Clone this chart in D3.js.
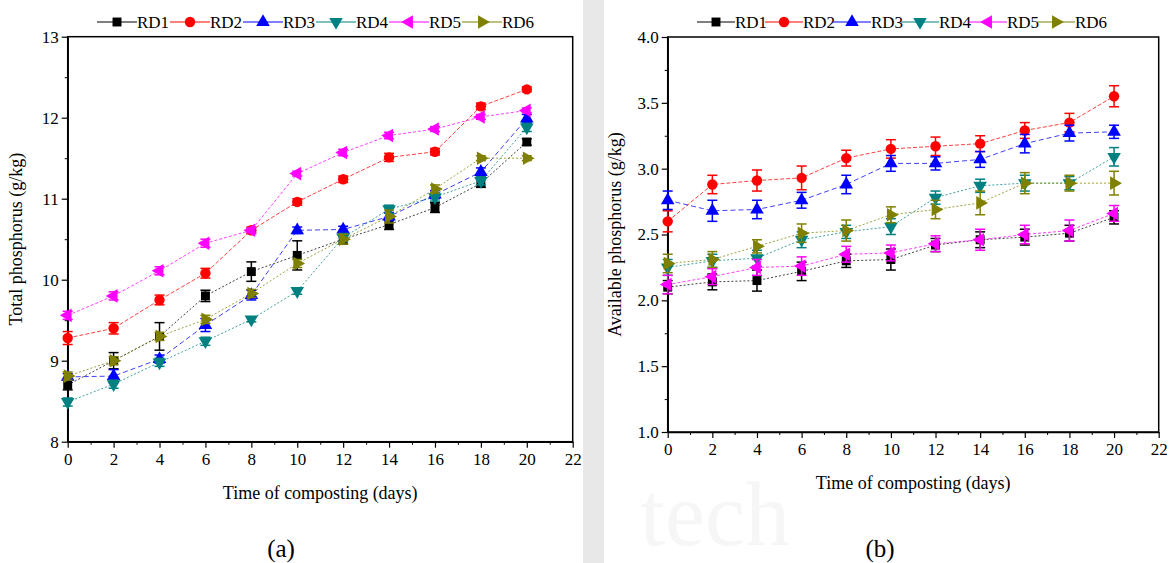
<!DOCTYPE html>
<meta charset="utf-8">
<style>
  body { margin: 0; background: #fff; }
  text { font-family: "Liberation Serif", "Times New Roman", serif; }
</style>
<body>
<script src="https://d3js.org/d3.v7.min.js"></script>
<script>
// composting days
const days = [0, 2, 4, 6, 8, 10, 12, 14, 16, 18, 20];
const seriesNames = ["RD1", "RD2", "RD3", "RD4", "RD5", "RD6"];
const xTicks = [0, 2, 4, 6, 8, 10, 12, 14, 16, 18, 20, 22];
const tpTicks = [8, 9, 10, 11, 12, 13];
const apTicks = [1.0, 1.5, 2.0, 2.5, 3.0, 3.5, 4.0];

// (a) total phosphorus, g/kg
const tpRD1 = [8.70, 9.00, 9.30, 9.80, 10.10, 10.30, 10.50, 10.68, 10.89, 11.19, 11.70];
const tpRD2 = [9.28, 9.40, 9.75, 10.08, 10.61, 10.96, 11.24, 11.51, 11.58, 12.14, 12.35];
const tpRD3 = [8.80, 8.81, 9.02, 9.44, 9.81, 10.61, 10.62, 10.78, 11.05, 11.33, 11.99];
const tpRD4 = [8.49, 8.71, 8.98, 9.24, 9.51, 9.86, 10.52, 10.87, 11.02, 11.22, 11.88];
const tpRD5 = [9.56, 9.80, 10.11, 10.45, 10.61, 11.31, 11.57, 11.78, 11.86, 12.01, 12.09];
const tpRD6 = [8.81, 9.00, 9.30, 9.51, 9.83, 10.20, 10.50, 10.78, 11.12, 11.50, 11.50];
const tpErrRD1 = [0.06, 0.10, 0.17, 0.07, 0.12, 0.18, 0.06, 0.06, 0.06, 0.05, 0.04];
const tpErrRD2 = [0.08, 0.07, 0.06, 0.06, 0.04, 0.04, 0.04, 0.05, 0.04, 0.04, 0.03];
const tpErrRD3 = [0.04, 0.08, 0.05, 0.08, 0.06, 0.04, 0.04, 0.05, 0.05, 0.05, 0.05];
const tpErrRD4 = [0.05, 0.05, 0.05, 0.05, 0.03, 0.04, 0.05, 0.05, 0.05, 0.05, 0.05];
const tpErrRD5 = [0.05, 0.05, 0.05, 0.05, 0.03, 0.03, 0.04, 0.04, 0.03, 0.03, 0.03];
const tpErrRD6 = [0.05, 0.05, 0.05, 0.05, 0.05, 0.05, 0.06, 0.08, 0.05, 0.03, 0.03];

// (b) available phosphorus, g/kg
const apRD1 = [2.10, 2.14, 2.15, 2.22, 2.30, 2.31, 2.42, 2.46, 2.48, 2.51, 2.63];
const apRD2 = [2.60, 2.88, 2.91, 2.93, 3.08, 3.15, 3.17, 3.19, 3.29, 3.35, 3.55];
const apRD3 = [2.76, 2.68, 2.69, 2.76, 2.88, 3.04, 3.04, 3.07, 3.19, 3.27, 3.28];
const apRD4 = [2.25, 2.30, 2.32, 2.46, 2.52, 2.56, 2.78, 2.87, 2.89, 2.89, 3.09];
const apRD5 = [2.12, 2.18, 2.25, 2.26, 2.35, 2.36, 2.43, 2.46, 2.50, 2.53, 2.66];
const apRD6 = [2.28, 2.31, 2.41, 2.51, 2.53, 2.65, 2.69, 2.74, 2.89, 2.89, 2.89];
const apErrRD1 = [0.05, 0.06, 0.08, 0.07, 0.05, 0.08, 0.05, 0.06, 0.06, 0.06, 0.05];
const apErrRD2 = [0.08, 0.07, 0.08, 0.09, 0.06, 0.07, 0.07, 0.06, 0.06, 0.07, 0.08];
const apErrRD3 = [0.07, 0.08, 0.07, 0.06, 0.07, 0.06, 0.05, 0.06, 0.07, 0.06, 0.05];
const apErrRD4 = [0.06, 0.05, 0.06, 0.06, 0.05, 0.06, 0.05, 0.05, 0.06, 0.05, 0.07];
const apErrRD5 = [0.07, 0.06, 0.06, 0.07, 0.06, 0.06, 0.06, 0.08, 0.07, 0.08, 0.06];
const apErrRD6 = [0.07, 0.06, 0.05, 0.07, 0.08, 0.06, 0.07, 0.09, 0.08, 0.06, 0.09];

const tpSeries = [tpRD1, tpRD2, tpRD3, tpRD4, tpRD5, tpRD6];
const tpErrs = [tpErrRD1, tpErrRD2, tpErrRD3, tpErrRD4, tpErrRD5, tpErrRD6];
const apSeries = [apRD1, apRD2, apRD3, apRD4, apRD5, apRD6];
const apErrs = [apErrRD1, apErrRD2, apErrRD3, apErrRD4, apErrRD5, apErrRD6];

const colors = ["#000000", "#ff0000", "#0000ff", "#008080", "#ff00ff", "#808000"];
// marker shape and rotation per series
const shapes = [d3.symbolSquare, d3.symbolCircle, d3.symbolTriangle, d3.symbolTriangle, d3.symbolTriangle, d3.symbolTriangle];
const rotations = [0, 0, 0, 180, -90, 90];
const sizes = [80, 85, 80, 80, 80, 80];
const dashes = ["2,2", "4,2", "5,3", "2,2", "3,2", "2,2"];
const serif = "'Liberation Serif', 'Times New Roman', serif";

const width = 1171, height = 563;
const svg = d3.select("body").append("svg")
    .attr("width", width)
    .attr("height", height);

// grey strip between the two panels
svg.append("rect").attr("x", 583).attr("y", 0).attr("width", 21).attr("height", height).attr("fill", "#e8e8e8");
// faint watermark
svg.append("text").attr("x", 640).attr("y", 545).attr("font-size", 90)
    .attr("fill", "#f6f6f6").text("tech");

function drawPanel(cfg) {
    const x = d3.scaleLinear().domain([0, 22]).range([cfg.left, cfg.right]);
    const y = d3.scaleLinear().domain(cfg.yDomain).range([cfg.bottom, cfg.top]);
    const g = svg.append("g");

    g.append("rect")
        .attr("x", cfg.left).attr("y", cfg.top)
        .attr("width", cfg.right - cfg.left).attr("height", cfg.bottom - cfg.top)
        .attr("fill", "#fff").attr("stroke", "#000").attr("stroke-width", 1.5);

    // minor ticks
    g.append("g").attr("transform", "translate(0," + cfg.bottom + ")")
        .call(d3.axisBottom(x).tickValues(d3.range(1, 22, 2)).tickSize(3).tickFormat(""))
        .call(a => a.select(".domain").remove());
    g.append("g").attr("transform", "translate(" + cfg.left + ",0)")
        .call(d3.axisLeft(y).tickValues(cfg.yMinor).tickSize(3).tickFormat(""))
        .call(a => a.select(".domain").remove());

    // major ticks
    const xa = g.append("g").attr("transform", "translate(0," + cfg.bottom + ")")
        .call(d3.axisBottom(x).tickValues(xTicks).tickSize(6).tickSizeOuter(0).tickPadding(5));
    const ya = g.append("g").attr("transform", "translate(" + cfg.left + ",0)")
        .call(d3.axisLeft(y).tickValues(cfg.yTicks).tickSize(6).tickSizeOuter(0)
            .tickPadding(3).tickFormat(cfg.yFormat));
    [xa, ya].forEach(a => {
        a.attr("font-family", serif).attr("font-size", 17);
        a.selectAll("text").attr("fill", "#000").attr("font-family", serif);
        a.selectAll("line").attr("stroke-width", 1.2);
        a.select(".domain").attr("stroke-width", 1.5);
    });

    // axis titles
    g.append("text")
        .attr("transform", "translate(" + cfg.yTitleX + "," + (cfg.top + cfg.bottom) / 2 + ") rotate(-90)")
        .attr("text-anchor", "middle").attr("font-size", 18).text(cfg.yTitle);
    g.append("text")
        .attr("x", (cfg.left + cfg.right) / 2).attr("y", cfg.bottom + 57)
        .attr("text-anchor", "middle").attr("font-size", 18).text("Time of composting (days)");
    g.append("text")
        .attr("x", cfg.labelX).attr("y", 557)
        .attr("text-anchor", "middle").attr("font-size", 25).text(cfg.label);

    const line = d3.line().x((d, i) => x(days[i])).y(d => y(d));

    // lines
    cfg.series.forEach((s, k) => {
        g.append("path").datum(s)
            .attr("d", line)
            .attr("fill", "none")
            .attr("stroke", colors[k])
            .attr("stroke-width", 1)
            .attr("stroke-dasharray", dashes[k])
            .attr("opacity", 0.75);
    });

    // error bars and markers
    cfg.series.forEach((s, k) => {
        const err = cfg.errs[k];
        const eg = g.append("g").attr("stroke", colors[k]).attr("stroke-width", 1.5);
        s.forEach((v, i) => {
            const cx = x(days[i]);
            const y1 = y(v + err[i]), y2 = y(v - err[i]);
            eg.append("line").attr("x1", cx).attr("x2", cx).attr("y1", y1).attr("y2", y2);
            eg.append("line").attr("x1", cx - 5).attr("x2", cx + 5).attr("y1", y1).attr("y2", y1);
            eg.append("line").attr("x1", cx - 5).attr("x2", cx + 5).attr("y1", y2).attr("y2", y2);
        });
        g.append("g").selectAll("path").data(s).join("path")
            .attr("d", d3.symbol().type(shapes[k]).size(sizes[k]))
            .attr("transform", (d, i) => "translate(" + x(days[i]) + "," + y(d) + ") rotate(" + rotations[k] + ")")
            .attr("fill", colors[k]);
    });

    // legend
    const lg = svg.append("g").attr("transform", "translate(" + cfg.legendX + ",22)");
    seriesNames.forEach((name, k) => {
        const ox = k * cfg.legendStep;
        lg.append("line").attr("x1", ox).attr("x2", ox + cfg.legendLine).attr("y1", 0).attr("y2", 0)
            .attr("stroke", colors[k]).attr("stroke-width", 1.2);
        lg.append("path")
            .attr("d", d3.symbol().type(shapes[k]).size(sizes[k]))
            .attr("transform", "translate(" + (ox + cfg.legendLine / 2) + ",0) rotate(" + rotations[k] + ")")
            .attr("fill", colors[k]);
        lg.append("text").attr("x", ox + cfg.legendLine).attr("y", 6)
            .attr("font-size", 17).text(name);
    });
}

drawPanel({
    left: 67.7, right: 572.7, top: 36.7, bottom: 441.7,
    yDomain: [8, 13], yTicks: tpTicks, yMinor: d3.range(8.5, 13, 1), yFormat: d3.format("d"),
    yTitle: "Total phosphorus (g/kg)", yTitleX: 22,
    label: "(a)", labelX: 281,
    series: tpSeries, errs: tpErrs,
    legendX: 97, legendStep: 73, legendLine: 40
});

drawPanel({
    left: 667.7, right: 1158.7, top: 37, bottom: 432,
    yDomain: [1, 4], yTicks: apTicks, yMinor: d3.range(1.25, 4, 0.5), yFormat: d3.format(".1f"),
    yTitle: "Available phosphorus (g/kg)", yTitleX: 621,
    label: "(b)", labelX: 880,
    series: apSeries, errs: apErrs,
    legendX: 697, legendStep: 68, legendLine: 38
});
</script>
</body>
